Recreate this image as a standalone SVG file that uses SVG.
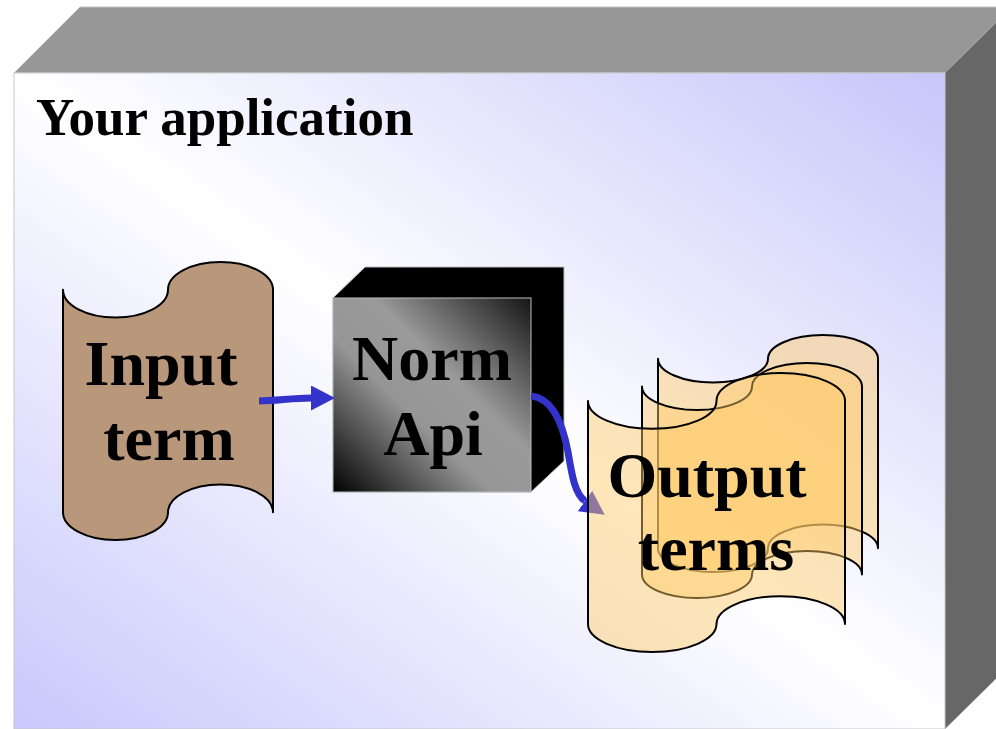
<svg xmlns="http://www.w3.org/2000/svg" width="996" height="729" viewBox="0 0 996 729">
  <style>
    .label { font-family: "Liberation Serif", "Times New Roman", serif; font-weight: bold; fill: #000; }
    .big { font-size: 64px; text-anchor: middle; }
    .tape { stroke: #000; stroke-width: 2; stroke-linejoin: round; }
    .output { fill: #ffc966; fill-opacity: 0.45; }
    .flow { fill: none; stroke: #3333cc; stroke-width: 7; }
  </style>
  <defs>
    <!-- front face of the application box: lavender corners, white diagonal band -->
    <linearGradient id="appFace" x1="1" y1="0" x2="0" y2="1">
      <stop offset="0" stop-color="#c6c6fa"/>
      <stop offset="0.5" stop-color="#ffffff"/>
      <stop offset="1" stop-color="#c8c8fc"/>
    </linearGradient>
    <!-- front face of the Norm Api cube -->
    <linearGradient id="cubeFace" x1="1" y1="0" x2="0" y2="1">
      <stop offset="0" stop-color="#151515"/>
      <stop offset="0.4" stop-color="#9a9a9a"/>
      <stop offset="0.6" stop-color="#969696"/>
      <stop offset="1" stop-color="#000000"/>
    </linearGradient>
    <marker id="arrowHead" markerUnits="userSpaceOnUse" markerWidth="24" markerHeight="26" refX="0" refY="12.5" orient="auto">
      <path d="M0,0 L24,12.5 L0,25 Z" fill="#3333cc"/>
    </marker>
  </defs>

  <!-- application box (3D slab) -->
  <g id="application">
    <polygon points="14,73 80,7 1012,7 945,73" fill="#979797" stroke="#c4c4c4" stroke-width="1"/>
    <polygon points="945,73 1012,7 1012,663 945,729" fill="#676767"/>
    <rect x="14" y="73" width="931" height="656" fill="url(#appFace)" stroke="#c8c8c8" stroke-width="1"/>
    <text class="label" x="36" y="135" font-size="53">Your application</text>
  </g>

  <!-- input term: punched tape shape -->
  <g id="input-term">
    <path class="tape" fill="#b8977a" d="M63,289.8 A52.5,27.8 0 0 0 168,289.8 A52.5,27.8 0 0 1 273,289.8 L273,512.2 A52.5,27.8 0 0 0 168,512.2 A52.5,27.8 0 0 1 63,512.2 Z"/>
    <text class="label big" x="161" y="385">Input</text>
    <text class="label big" x="169" y="460">term</text>
  </g>

  <!-- Norm Api: cube -->
  <g id="norm-api">
    <polygon points="333,298 365,267 564,267 564,461 531,492 333,492" fill="#000" stroke="#bdbdbd" stroke-width="1"/>
    <rect x="333" y="298" width="198" height="194" fill="url(#cubeFace)" stroke="#bdbdbd" stroke-width="1"/>
    <text class="label big" x="432" y="380">Norm</text>
    <text class="label big" x="433" y="455">Api</text>
  </g>

  <!-- connectors -->
  <g id="connectors">
    <path class="flow" d="M259,401 C276,401 292,398 311,398" marker-end="url(#arrowHead)"/>
    <path class="flow" d="M531,396 C553,398 563,425 568,452 C572,476 575,494 585,501" marker-end="url(#arrowHead)"/>
  </g>

  <!-- output terms: three stacked translucent tapes -->
  <g id="output-terms">
    <path class="tape output" d="M658,358.7 A55,23.7 0 0 0 768,358.7 A55,23.7 0 0 1 878,358.7 L878,548.3 A55,23.7 0 0 0 768,548.3 A55,23.7 0 0 1 658,548.3 Z"/>
    <path class="tape output" d="M642,386.5 A55,23.5 0 0 0 752,386.5 A55,23.5 0 0 1 862,386.5 L862,574.5 A55,23.5 0 0 0 752,574.5 A55,23.5 0 0 1 642,574.5 Z"/>
    <path class="tape output" d="M588,400.9 A64.25,27.9 0 0 0 716.5,400.9 A64.25,27.9 0 0 1 845,400.9 L845,624.1 A64.25,27.9 0 0 0 716.5,624.1 A64.25,27.9 0 0 1 588,624.1 Z"/>
    <text class="label big" x="707" y="497">Output</text>
    <text class="label big" x="716" y="570">terms</text>
  </g>
</svg>
